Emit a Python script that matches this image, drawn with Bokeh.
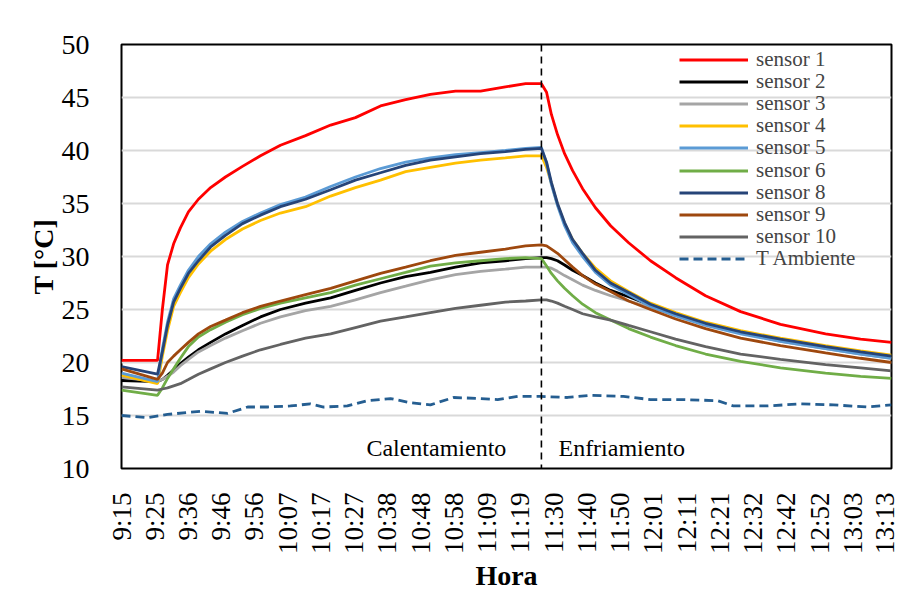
import math
from bokeh.plotting import figure
from bokeh.models import FixedTicker, Span, Label, Legend, LegendItem, BoxAnnotation
from bokeh.embed import file_html
from bokeh.resources import INLINE

# ---------------- data ----------------
tick_labels = ["9:15", "9:25", "9:36", "9:46", "9:56", "10:07", "10:17", "10:27",
               "10:38", "10:48", "10:58", "11:09", "11:19", "11:30", "11:40", "11:50",
               "12:01", "12:11", "12:21", "12:32", "12:42", "12:52", "13:03", "13:13"]
tick_step = 620 / 60  # minutes between labelled categories

# minutes after 9:15
t = [0, 11.2, 12.7, 14.3, 16.2, 18.3, 20.8, 23.9, 27.7, 32.3, 37.6, 43.2, 49.4, 57.2,
     65.0, 72.7, 80.5, 88.3, 96.0, 103.8, 111.6, 119.3, 125.6, 130.5, 132.1, 133.6,
     135.5, 137.7, 140.2, 143.3, 147.3, 152.0, 157.6, 164.4, 172.2, 181.5, 192.4,
     204.8, 218.8, 229.7, 239.3]

sensor1 = [20.2, 20.2, 25.0, 29.2, 31.2, 32.7, 34.2, 35.4, 36.5, 37.5, 38.5, 39.5, 40.5,
           41.4, 42.4, 43.1, 44.2, 44.8, 45.3, 45.6, 45.6, 46.0, 46.3, 46.3, 45.5, 43.4,
           41.5, 39.7, 38.1, 36.4, 34.6, 32.9, 31.3, 29.6, 28.0, 26.3, 24.8, 23.6, 22.7,
           22.2, 21.9]
sensor2 = [18.3, 18.2, 18.4, 18.8, 19.3, 19.9, 20.5, 21.2, 21.9, 22.7, 23.5, 24.3, 25.0,
           25.6, 26.1, 26.8, 27.5, 28.1, 28.5, 29.0, 29.4, 29.6, 29.8, 29.9, 29.9, 29.8,
           29.6, 29.2, 28.7, 28.2, 27.5, 26.8, 26.2, 25.4, 24.5, 23.6, 22.8, 22.1, 21.4,
           20.9, 20.5]
sensor3 = [18.6, 18.2, 18.4, 18.7, 19.1, 19.7, 20.3, 21.0, 21.6, 22.3, 23.0, 23.7, 24.3,
           24.9, 25.3, 25.9, 26.6, 27.2, 27.8, 28.3, 28.6, 28.8, 29.0, 29.0, 29.0, 28.9,
           28.6, 28.2, 27.8, 27.3, 26.8, 26.3, 25.8, 25.2, 24.5, 23.6, 22.8, 22.0, 21.3,
           20.8, 20.4]
sensor4 = [18.8, 18.0, 20.6, 23.0, 25.3, 26.6, 28.0, 29.3, 30.5, 31.6, 32.6, 33.4, 34.1,
           34.7, 35.7, 36.5, 37.2, 38.0, 38.4, 38.8, 39.1, 39.3, 39.5, 39.5, 38.4, 36.9,
           34.9, 33.1, 31.6, 30.3, 28.9, 27.7, 26.7, 25.6, 24.7, 23.8, 23.0, 22.3, 21.6,
           21.1, 20.7]
sensor5 = [19.0, 18.2, 21.3, 23.8, 26.0, 27.3, 28.7, 30.0, 31.2, 32.3, 33.3, 34.1, 34.9,
           35.6, 36.6, 37.5, 38.3, 38.9, 39.3, 39.6, 39.8, 40.0, 40.2, 40.3, 38.8, 36.8,
           34.8, 32.9, 31.3, 30.0, 28.5, 27.3, 26.4, 25.3, 24.4, 23.5, 22.7, 22.0, 21.3,
           20.8, 20.4]
sensor6 = [17.4, 16.9, 17.6, 18.5, 19.4, 20.4, 21.5, 22.4, 23.1, 23.8, 24.5, 25.1, 25.6,
           26.1, 26.6, 27.3, 27.9, 28.5, 29.1, 29.4, 29.6, 29.8, 29.9, 29.8, 29.1, 28.4,
           27.7, 27.0, 26.3, 25.5, 24.7, 24.0, 23.2, 22.4, 21.6, 20.8, 20.1, 19.5, 19.0,
           18.7, 18.5]
sensor8 = [19.6, 18.9, 21.0, 23.5, 25.7, 27.0, 28.4, 29.6, 30.9, 32.0, 33.1, 33.9, 34.7,
           35.4, 36.3, 37.2, 37.9, 38.6, 39.1, 39.4, 39.7, 39.9, 40.1, 40.2, 38.9, 37.0,
           35.0, 33.2, 31.6, 30.3, 28.7, 27.5, 26.6, 25.5, 24.6, 23.7, 22.9, 22.2, 21.5,
           21.0, 20.6]
sensor9 = [19.4, 18.4, 19.0, 20.0, 20.6, 21.2, 21.9, 22.7, 23.4, 24.0, 24.7, 25.3, 25.8,
           26.4, 27.0, 27.7, 28.4, 29.0, 29.6, 30.1, 30.4, 30.7, 31.0, 31.1, 31.0, 30.7,
           30.3, 29.7, 29.0, 28.2, 27.4, 26.7, 25.8, 25.0, 24.1, 23.2, 22.3, 21.6, 20.9,
           20.4, 20.0]
sensor10 = [17.7, 17.4, 17.5, 17.6, 17.8, 18.0, 18.4, 18.9, 19.4, 20.0, 20.6, 21.2, 21.7,
            22.3, 22.7, 23.3, 23.9, 24.3, 24.7, 25.1, 25.4, 25.7, 25.8, 25.9, 25.9, 25.8,
            25.6, 25.3, 25.0, 24.6, 24.3, 24.0, 23.5, 22.9, 22.2, 21.5, 20.8, 20.3, 19.8,
            19.5, 19.2]

amb_t = [0, 8.1, 14.3, 24.6, 33.0, 39.2, 45.4, 52.5, 58.7, 62.8, 70.2, 76.4, 83.6, 89.8,
         96.0, 103.2, 111.6, 116.9, 123.1, 130.2, 138.6, 145.8, 156.0, 164.4, 174.7,
         185.2, 190.2, 200.8, 211.0, 221.3, 231.8, 239.3]
t_ambiente = [15.0, 14.8, 15.1, 15.4, 15.2, 15.8, 15.8, 15.9, 16.1, 15.8, 15.9, 16.4,
              16.6, 16.2, 16.0, 16.7, 16.6, 16.5, 16.8, 16.8, 16.7, 16.9, 16.8, 16.5,
              16.5, 16.4, 15.9, 15.9, 16.1, 16.0, 15.8, 16.0]

heating_end = 130.5  # minutes after 9:15

series = [("sensor 1", sensor1, "#ff0000"),
          ("sensor 2", sensor2, "#000000"),
          ("sensor 3", sensor3, "#a5a5a5"),
          ("sensor 4", sensor4, "#ffc000"),
          ("sensor 5", sensor5, "#5b9bd5"),
          ("sensor 6", sensor6, "#70ad47"),
          ("sensor 8", sensor8, "#264478"),
          ("sensor 9", sensor9, "#9e480e"),
          ("sensor 10", sensor10, "#636363")]

# ---------------- figure ----------------
FONT = "Liberation Serif"

p = figure(frame_width=770, frame_height=424,
           x_range=(0, 239.3), y_range=(10, 50),
           output_backend="svg", toolbar_location=None,
           min_border_left=121, min_border_right=8,
           min_border_top=44, min_border_bottom=128)

p.background_fill_color = "white"
p.border_fill_color = "white"
p.outline_line_color = "black"
p.outline_line_width = 2

p.xgrid.grid_line_color = None
p.ygrid.grid_line_color = "#d9d9d9"
p.ygrid.grid_line_width = 2

# faint outer chart-area border (top/left edges visible)
p.add_layout(BoxAnnotation(left=10, right=3000, top=10, bottom=3000,
                           left_units="canvas", right_units="canvas",
                           top_units="canvas", bottom_units="canvas",
                           fill_alpha=0, line_color="#e9e7da", line_width=1.5,
                           editable=False))

items = []
for name, vals, col in series:
    r = p.line(t, vals, line_color=col, line_width=2.8)
    items.append(LegendItem(label=name, renderers=[r]))
ra = p.line(amb_t, t_ambiente, line_color="#255e91", line_width=2.8, line_dash="9 5")
items.append(LegendItem(label="T Ambiente", renderers=[ra]))

p.add_layout(Span(location=heating_end, dimension="height", line_color="black",
                  line_width=1.6, line_dash="7 5"))

p.add_layout(Label(x=119.6, y=11.9, text="Calentamiento", text_align="right",
                   text_baseline="alphabetic", text_font=FONT, text_font_size="24px",
                   text_color="black"))
p.add_layout(Label(x=135.8, y=11.9, text="Enfriamiento", text_align="left",
                   text_baseline="alphabetic", text_font=FONT, text_font_size="24px",
                   text_color="black"))

# one legend box per entry so that the row pitch can be tighter than the font box
ROW_H = 25
for i, it in enumerate(items):
    lg = Legend(items=[it], location=(558, 409 - 22.2 * i - ROW_H / 2),
                padding=0, margin=0, spacing=0,
                glyph_width=69, glyph_height=ROW_H, label_height=ROW_H,
                label_standoff=8,
                label_text_font=FONT, label_text_font_size="21px",
                background_fill_alpha=0, border_line_alpha=0)
    p.add_layout(lg, "center")

# axes
xa = p.xaxis[0]
xa.ticker = FixedTicker(ticks=[i * tick_step for i in range(len(tick_labels))])
xa.major_label_overrides = {i * tick_step: lab for i, lab in enumerate(tick_labels)}
xa.major_label_orientation = math.pi / 2
xa.major_label_text_font = FONT
xa.major_label_text_font_size = "27px"
xa.major_label_text_color = "black"
xa.major_label_standoff = 18
xa.major_tick_line_color = None
xa.minor_tick_line_color = None
xa.axis_line_color = None
xa.axis_label = "Hora"
xa.axis_label_text_font = FONT
xa.axis_label_text_font_style = "bold"
xa.axis_label_text_font_size = "28px"
xa.axis_label_text_color = "black"
xa.axis_label_standoff = 3

ya = p.yaxis[0]
ya.ticker = FixedTicker(ticks=[10, 15, 20, 25, 30, 35, 40, 45, 50])
ya.major_label_text_font = FONT
ya.major_label_text_font_size = "28px"
ya.major_label_text_color = "black"
ya.major_label_standoff = 26
ya.major_tick_line_color = None
ya.minor_tick_line_color = None
ya.axis_line_color = None
ya.axis_label = "T [°C]"
ya.axis_label_text_font = FONT
ya.axis_label_text_font_style = "bold"
ya.axis_label_text_font_size = "28px"
ya.axis_label_text_color = "black"
ya.axis_label_standoff = 0

open("out.html", "w").write(file_html(p, INLINE))
